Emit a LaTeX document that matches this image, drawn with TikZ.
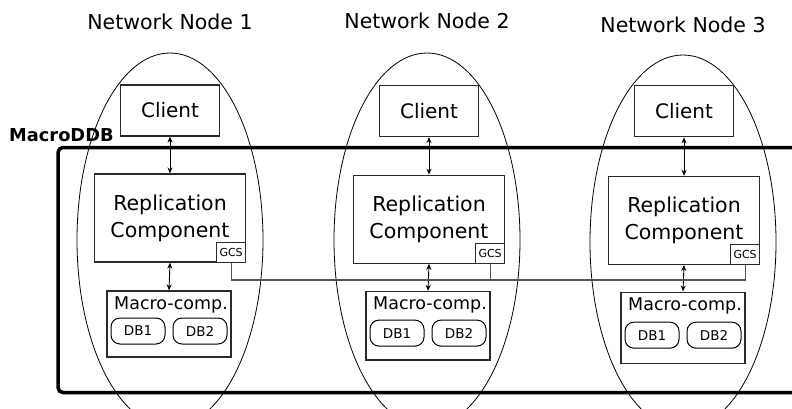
\documentclass[tikz,border=0pt]{standalone}
\usepackage{fontspec}
\setmainfont{DejaVu Sans}
\usetikzlibrary{arrows.meta,calc,shapes.geometric}
\definecolor{boxline}{HTML}{2A2A2A}
\definecolor{busline}{HTML}{555555}
\tikzset{
  netell/.style={draw=black,line width=0.8pt,ellipse,minimum width=186pt,minimum height=374pt,inner sep=0pt},
  comp/.style={draw=boxline,line width=1.2pt,fill=white,inner sep=0pt,align=center},
  pill/.style={draw=black,line width=1pt,rounded corners=9pt,minimum width=54pt,minimum height=26pt,inner sep=0pt,font=\fontsize{13.5}{14}\selectfont},
  gcsbox/.style={draw=boxline,line width=1pt,fill=white,minimum width=29pt,minimum height=20pt,inner sep=0pt,font=\fontsize{11}{12}\selectfont},
  dbl/.style={line width=0.9pt,{Stealth[length=6pt,width=5pt]}-{Stealth[length=6pt,width=5pt]}},
  title/.style={font=\fontsize{20.5}{22}\selectfont},
  bus/.style={draw=busline,line width=1.1pt}
}
\begin{document}
\begin{tikzpicture}[x=1pt,y=-1pt]
\useasboundingbox (0,0) rectangle (792,409);
\clip (0,0) rectangle (792,409);
% MacroDDB frame
\draw[line width=3.5pt,rounded corners=5pt] (800,147.5) -- (58,147.5) -- (58,392.5) -- (800,392.5);
\node[anchor=west,font=\bfseries\fontsize{17.8}{18}\selectfont,inner sep=0pt] (mddb) at (9,135.5) {MacroDDB};
% network nodes
\foreach \i/\ex/\cx/\ty/\ety/\dy in {1/170/170/21.5/53/0, 2/427/429/20.5/53/1, 3/683/684/24.5/55/2}{
  \node[title] (t\i) at (\ex,\ty) {Network Node \i};
  \node[netell] (e\i) at (\ex,\ety+187) {};
  \node[comp,minimum width=99pt,minimum height=51pt,font=\fontsize{20}{22}\selectfont] (c\i) at (\cx,111+\dy*0.4-0.5) {Client};
  \node[comp,minimum width=151pt,minimum height=88pt,font=\fontsize{20.5}{27}\selectfont] (r\i) at (\cx,218+\dy*1.2) {Replication\\Component};
  \node[gcsbox,anchor=south east] (g\i) at (r\i.south east) {GCS};
  \node[comp,minimum width=124pt,minimum height=66pt+\dy*2.5pt] (m\i) at (\cx-1,324+\dy*1.8) {};
  \node[anchor=north,inner sep=0pt,font=\fontsize{17.5}{18}\selectfont] (ml\i) at ($(m\i.north)+(2,6)$) {Macro-comp.};
  \node[pill] (da\i) at ($(m\i.center)+(-31,7+\dy*0.3)$) {DB1};
  \node[pill] (db\i) at ($(m\i.center)+(31,7+\dy*0.3)$) {DB2};
  \draw[dbl] (c\i.south) -- (r\i.north);
  \draw[dbl] (r\i.south) -- (m\i.north);
}
% GCS bus
\coordinate (busy) at (0,280);
\draw[bus] (g1.south) -- (g1.south |- busy) -- (g3.south |- busy) -- (g3.south);
\draw[bus] (g2.south) -- (g2.south |- busy);
\end{tikzpicture}
\end{document}
